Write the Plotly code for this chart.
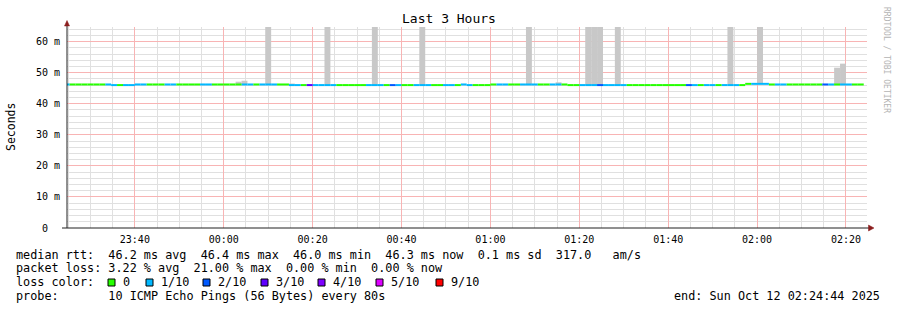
import plotly.graph_objects as go
from datetime import datetime, timedelta

# ---------------- data ----------------
TITLE = "Last 3 Hours"
END_TIME = datetime(2025, 10, 12, 2, 24, 44)
START_TIME = END_TIME - timedelta(hours=3)
FIRST_STEP = datetime(2025, 10, 11, 23, 24, 0)
STEP_SEC = 80

# median rtt per 80 s step (ms)
median_ms = [
    46.2, 46.2, 46.2, 46.2, 46.2, 46.2, 46.2, 46.2, 46.0, 46.0,
    46.0, 46.0, 46.2, 46.2, 46.2, 46.2, 46.2, 46.2, 46.2, 46.2,
    46.2, 46.2, 46.2, 46.2, 46.2, 46.2, 46.2, 46.2, 46.2, 46.2,
    46.2, 46.2, 46.2, 46.2, 46.2, 46.2, 46.2, 46.2, 46.0, 46.0,
    46.0, 46.0, 46.0, 46.0, 46.0, 46.0, 46.0, 46.0, 46.0, 46.0,
    46.0, 46.0, 46.0, 46.0, 46.0, 46.0, 46.0, 46.0, 46.0, 46.0,
    46.0, 46.0, 46.0, 46.0, 46.0, 46.0, 46.0, 46.2, 46.0, 46.0,
    46.0, 46.0, 46.2, 46.2, 46.2, 46.2, 46.2, 46.2, 46.2, 46.2,
    46.2, 46.2, 46.2, 46.2, 46.2, 46.0, 46.0, 46.0, 46.0, 46.0,
    46.0, 46.0, 46.0, 46.0, 46.0, 46.0, 46.0, 46.0, 46.0, 46.0,
    46.0, 46.0, 46.0, 46.0, 46.0, 46.0, 46.0, 46.0, 46.0, 46.0,
    46.0, 46.0, 46.0, 46.0, 46.0, 46.4, 46.4, 46.4, 46.4, 46.2,
    46.2, 46.2, 46.2, 46.2, 46.2, 46.2, 46.2, 46.2, 46.2, 46.2,
    46.2, 46.2, 46.2, 46.2, 46.2,
]

# lost pings (out of 10) per step
loss_pings = [
    1, 0, 0, 0, 0, 0, 0, 1, 1, 0,
    1, 1, 1, 1, 0, 0, 0, 1, 1, 0,
    0, 0, 0, 1, 1, 0, 0, 0, 0, 0,
    1, 1, 0, 1, 1, 1, 0, 0, 1, 1,
    0, 2.1, 1, 1, 1, 1, 0, 0, 0, 0,
    0, 1, 1, 1, 0, 2, 1, 0, 0, 1,
    1, 1, 0, 0, 1, 1, 0, 1, 1, 0,
    0, 0, 0, 1, 1, 0, 0, 1, 1, 1,
    0, 0, 1, 1, 0, 0, 0, 1, 1, 1,
    2, 1, 1, 1, 1, 0, 0, 0, 0, 0,
    0, 0, 0, 0, 0, 2, 1, 0, 1, 1,
    0, 1, 1, 1, 0, 0, 1, 1, 1, 0,
    1, 1, 0, 0, 0, 0, 0, 0, 2, 1,
    0, 1, 1, 0, 0,
]

# smoke: steps where the slowest ping stands out above the median (ms)
smoke_steps = [29, 30, 34, 38, 44, 52, 60, 78, 83, 88, 89, 90, 93, 112, 117, 130, 131]
smoke_max_ms = [47.1, 47.4, 81.0, 46.5, 77.5, 92.3, 70.8, 85.6, 46.9, 98.2,
                104.7, 88.9, 73.4, 79.1, 69.6, 51.6, 52.9]

y_tick_vals = [0, 10, 20, 30, 40, 50, 60]
loss_levels = [0, 1, 2, 3, 4, 5, 9]
loss_colors = ["#26ff00", "#00b8ff", "#0059ff", "#5e00ff", "#7e00ff", "#dd00ff", "#ff0000"]
loss_labels = ["0", "1/10", "2/10", "3/10", "4/10", "5/10", "9/10"]

rtt_line = "median rtt:  46.2 ms avg  46.4 ms max  46.0 ms min  46.3 ms now  0.1 ms sd  317.0   am/s"
loss_line = "packet loss: 3.22 % avg  21.00 % max  0.00 % min  0.00 % now"
probe_line = "probe:       10 ICMP Echo Pings (56 Bytes) every 80s"
end_line = "end: Sun Oct 12 02:24:44 2025"
watermark = "RRDTOOL / TOBI OETIKER"

# ---------------- geometry ----------------
W, H = 897, 310
PL, PR, PT, PB = 67, 867, 27, 228
FONT = "DejaVu Sans Mono"


def px(x):
    return (x - PL) / (PR - PL)


def py(y):
    return (PB - y) / (PB - PT)


def color_for(loss):
    for lvl, c in zip(loss_levels, loss_colors):
        if loss <= lvl:
            return c
    return loss_colors[-1]


step_start = [FIRST_STEP + timedelta(seconds=STEP_SEC * i) for i in range(len(median_ms))]
step_end = [t + timedelta(seconds=STEP_SEC) for t in step_start]
step_mid = [t + timedelta(seconds=STEP_SEC / 2) for t in step_start]

fig = go.Figure()

# smoke
fig.add_trace(go.Bar(
    x=[step_mid[s] for s in smoke_steps],
    base=[median_ms[s] for s in smoke_steps],
    y=[m - median_ms[s] for s, m in zip(smoke_steps, smoke_max_ms)],
    width=[STEP_SEC * 1000] * len(smoke_steps),
    marker=dict(color="#c8c8c8", line=dict(width=0)),
    hoverinfo="skip", showlegend=False,
))

# median line coloured by loss
segs = {}
for i, (m, l) in enumerate(zip(median_ms, loss_pings)):
    c = color_for(l)
    xs, ys = segs.setdefault(c, ([], []))
    xs += [step_start[i], step_end[i], None]
    ys += [m, m, None]
for c, (xs, ys) in segs.items():
    fig.add_trace(go.Scatter(x=xs, y=ys, mode="lines",
                             line=dict(color=c, width=2),
                             hoverinfo="skip", showlegend=False))

ann = []


def text(x, y, s, size, xanchor="left", angle=0, color="#000000"):
    ann.append(dict(x=px(x), y=py(y), xref="paper", yref="paper", text=s.replace(" ", "\u00a0"),
                    showarrow=False, xanchor=xanchor, yanchor="middle", textangle=angle,
                    borderpad=0, borderwidth=0,
                    font=dict(family=FONT, size=size, color=color)))


text(448.5, 19, TITLE, 13, xanchor="center")
text(11, 127, "Seconds", 11.5, xanchor="center", angle=-90)
text(887, 60, watermark, 8, xanchor="center", angle=90, color="#b4b4b4")
text(16, 254.5, rtt_line, 11.8)
text(16, 268, loss_line, 11.8)
text(16, 282, "loss color:", 11.8)
text(16, 296, probe_line, 11.8)
text(880, 296, end_line, 11.8, xanchor="right")

shapes = []

MAJOR = "#f8b4b4"
MINOR = "#e0e0e0"

fig.update_layout(
    xaxis=dict(
        type="date", range=[START_TIME, END_TIME],
        tick0="2025-10-11 23:40:00", dtick=20 * 60 * 1000, tickformat="%H:%M",
        showgrid=True, gridcolor=MAJOR, gridwidth=1,
        minor=dict(dtick=5 * 60 * 1000, tick0="2025-10-11 23:40:00", showgrid=True,
                   gridcolor=MINOR, gridwidth=1),
        ticks="", showline=False, zeroline=False,
        tickfont=dict(family=FONT, size=10, color="#000000"),
        ticklabelstandoff=4, fixedrange=True,
    ),
    yaxis=dict(
        range=[0, 64.7],
        tickvals=y_tick_vals,
        ticktext=[("%d m" % v) if v else "0\u00a0\u00a0" for v in y_tick_vals],
        showgrid=True, gridcolor=MAJOR, gridwidth=1,
        minor=dict(dtick=2, tick0=0, showgrid=True, gridcolor=MINOR, gridwidth=1),
        ticks="", showline=False, zeroline=False,
        tickfont=dict(family=FONT, size=10, color="#000000"),
        ticklabelstandoff=6, fixedrange=True,
    ),
)

box_x = [108, 146, 203, 261, 318, 376, 436]
for bx, c, lab in zip(box_x, loss_colors, loss_labels):
    shapes.append(dict(type="rect", xref="paper", yref="paper",
                       x0=px(bx), x1=px(bx + 7), y0=py(286), y1=py(279),
                       fillcolor=c, line=dict(color="#000000", width=1)))
    text(bx + 14.5, 282, lab, 11.8)

# axes + arrows
AX = "#202020"
ARROW = "#8b1c1c"
shapes.append(dict(type="line", xref="paper", yref="paper", x0=px(67), x1=px(67),
                   y0=py(228), y1=py(24), line=dict(color=AX, width=1)))
shapes.append(dict(type="line", xref="paper", yref="paper", x0=px(62), x1=px(869),
                   y0=py(228), y1=py(228), line=dict(color=AX, width=1)))
shapes.append(dict(type="path", xref="paper", yref="paper",
                   path=f"M {px(64.5)} {py(26)} L {px(67)} {py(20.5)} L {px(69.5)} {py(26)} Z",
                   fillcolor=ARROW, line=dict(color=ARROW, width=0.5)))
shapes.append(dict(type="path", xref="paper", yref="paper",
                   path=f"M {px(868.5)} {py(225)} L {px(874)} {py(228)} L {px(868.5)} {py(231)} Z",
                   fillcolor=ARROW, line=dict(color=ARROW, width=0.5)))

fig.update_layout(
    width=W, height=H,
    margin=dict(l=PL, r=W - PR, t=PT, b=H - PB, pad=0),
    paper_bgcolor="#ffffff", plot_bgcolor="#ffffff",
    showlegend=False, barmode="overlay",
    annotations=ann, shapes=shapes,
)

fig.write_html("out.html")
